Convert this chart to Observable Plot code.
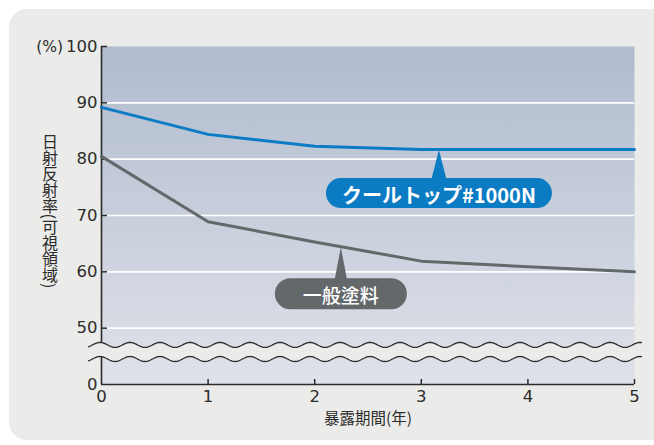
<!DOCTYPE html>
<html>
<head>
<meta charset="utf-8">
<script src="https://cdn.jsdelivr.net/npm/d3@7"></script>
<script src="https://cdn.jsdelivr.net/npm/@observablehq/plot@0.6"></script>
<style>
  html, body { margin: 0; padding: 0; background: #ffffff; }
  #wrap { position: relative; width: 654px; height: 445px; overflow: hidden; }
  #panel { position: absolute; left: 9px; top: 9px; width: 700px; height: 431px; border-radius: 18px; background: #ebebe9; }
  #chart { position: absolute; left: 0; top: 0; }
  #chart svg [aria-label="y-axis tick label"] text,
  #chart svg [aria-label="x-axis tick label"] text,
  #chart svg text.num { font-family: "DejaVu Sans", sans-serif; }
</style>
</head>
<body>
<div id="wrap"><div id="panel"></div><div id="chart"></div></div>
<script>
// Solar reflectance (visible range) over exposure time
const years = [0, 1, 2, 3, 4, 5];
const coolTop = [89.2, 84.4, 82.3, 81.7, 81.7, 81.7];
const generic = [80.5, 68.9, 65.3, 61.9, 60.9, 60.0];
const seriesNames = ["クールトップ#1000N", "一般塗料"];

// The axis origin sits just below the broken section, so 40 on the scale reads as 0
const yTicks = [40, 50, 60, 70, 80, 90, 100];
const yTickLabels = ["0", "50", "60", "70", "80", "90", "100"];
const xTicks = [0, 1, 2, 3, 4, 5];
const gridValues = [50, 60, 70, 80, 90];
const breakCenters = [46.93, 44.44];
const calloutYears = [3.17, 2.25];

const yTitle = "日射反射率(可視領域)";
const xTitle = "暴露期間(年)";
const yUnit = "(%)";

const BLUE = "#0b7bc4";
const GRAY = "#63686b";
const PANEL = "#ebebe9";
const INK = "#2b2b2b";
const FONT = "'Noto Sans CJK JP', 'Noto Sans', sans-serif";

const calloutStyle = [
  {w: 226, h: 30, drop: 44, base: 16, fill: BLUE, fontSize: 20, weight: 700},
  {w: 132, h: 31, drop: 47.5, base: 13, fill: GRAY, fontSize: 19, weight: 500}
];

const rows = years.flatMap((yr, i) => [
  {year: yr, value: coolTop[i], series: seriesNames[0]},
  {year: yr, value: generic[i], series: seriesNames[1]}
]);

function valueAt(vals, yr) {
  const i0 = Math.min(Math.floor(yr), vals.length - 2);
  return vals[i0] + (vals[i0 + 1] - vals[i0]) * (yr - i0);
}

// vertical gradient used to fill the plotting area
const gradientDefs = () => {
  const defs = d3.create("svg:defs");
  const g = defs.append("linearGradient").attr("id", "plotBg")
    .attr("x1", 0).attr("y1", 0).attr("x2", 0).attr("y2", 1);
  g.append("stop").attr("offset", "0%").attr("stop-color", "#b0bbce");
  g.append("stop").attr("offset", "100%").attr("stop-color", "#dfe2e9");
  return defs.node();
};

// wavy scale break between 0 and 50
const scaleBreak = (index, {y}, values, dims) => {
  const g = d3.create("svg:g");
  const x0 = dims.marginLeft - 13, x1 = dims.width - dims.marginRight + 8;
  const amp = 2.5, period = 30, phase = dims.marginLeft - 1;
  const wave = (cy) => d3.range(x0, x1 + 0.5, 1)
    .map(px => [px, cy - amp * Math.cos(2 * Math.PI * (px - phase) / period)]);
  const top = wave(y(breakCenters[0]));
  const bot = wave(y(breakCenters[1]));
  g.append("path").attr("d", d3.line()(top.concat(bot.slice().reverse())) + "Z")
    .attr("fill", PANEL);
  for (const w of [top, bot]) {
    g.append("path").attr("d", d3.line()(w)).attr("fill", "none")
      .attr("stroke", INK).attr("stroke-width", 1.3);
  }
  return g.node();
};

// pill-shaped labels pointing at each line
const callouts = (index, {x, y}) => {
  const g = d3.create("svg:g");
  const series = [coolTop, generic];
  calloutYears.forEach((yr, i) => {
    const st = calloutStyle[i];
    const ax = x(yr), ay = y(valueAt(series[i], yr));
    const cy = ay + st.drop, top = cy - st.h / 2;
    g.append("path")
      .attr("d", `M${ax},${ay + 1}L${ax - st.base / 2},${top + 3}L${ax + st.base / 2},${top + 3}Z`)
      .attr("fill", st.fill);
    g.append("rect").attr("x", ax - st.w / 2).attr("y", top)
      .attr("width", st.w).attr("height", st.h).attr("rx", st.h / 2).attr("fill", st.fill);
    g.append("text").attr("x", ax).attr("y", cy + 1)
      .attr("text-anchor", "middle").attr("dominant-baseline", "central")
      .attr("fill", "white").attr("font-size", st.fontSize).attr("font-weight", st.weight)
      .attr("font-family", FONT)
      .text(seriesNames[i]);
  });
  return g.node();
};

// vertical y-axis title
const yTitleMark = (index, scales, values, dims) => {
  const cy = (dims.marginTop + dims.height - dims.marginBottom) / 2 - 4;
  const t = d3.create("svg:text")
    .attr("x", dims.marginLeft - 51).attr("y", cy)
    .attr("text-anchor", "middle")
    .attr("fill", INK).attr("font-size", 16).attr("font-family", FONT)
    .style("writing-mode", "vertical-rl")
    .text(yTitle);
  return t.node();
};

// unit label above the y axis
const unitMark = (index, scales, values, dims) => {
  return d3.create("svg:text")
    .attr("class", "num")
    .attr("x", dims.marginLeft - 38).attr("y", dims.marginTop + 1)
    .attr("text-anchor", "end").attr("dominant-baseline", "central")
    .attr("fill", INK).attr("font-size", 15.5)
    .text(yUnit).node();
};

const chart = Plot.plot({
  width: 654,
  height: 445,
  marginLeft: 101,
  marginRight: 20,
  marginTop: 46,
  marginBottom: 61,
  x: {domain: [0, 5]},
  y: {domain: [40, 100]},
  color: {domain: seriesNames, range: [BLUE, GRAY]},
  style: {fontFamily: FONT, color: INK, background: "transparent", overflow: "visible"},
  marks: [
    gradientDefs,
    Plot.frame({fill: "url(#plotBg)", stroke: "none"}),
    Plot.ruleY(gridValues, {stroke: "white", strokeWidth: 1.6}),
    Plot.ruleY(yTicks.filter(d => d > 40), {x1: 0, x2: 0, insetRight: -6, stroke: INK, strokeWidth: 1.5}),
    Plot.ruleX(xTicks.filter(d => d > 0), {y1: 40, y2: 40, insetTop: -5, stroke: INK, strokeWidth: 1.5}),
    Plot.ruleX([0], {stroke: INK, strokeWidth: 1.6}),
    Plot.ruleY([40], {stroke: INK, strokeWidth: 1.6}),
    scaleBreak,
    Plot.line(rows, {x: "year", y: "value", z: "series", stroke: "series", strokeWidth: 3, strokeLinejoin: "round"}),
    callouts,
    Plot.axisY(yTicks, {tickSize: 0, tickPadding: 4, fontSize: 16.5, fill: INK, label: null,
      tickFormat: d => yTickLabels[yTicks.indexOf(d)]}),
    Plot.axisX(xTicks, {tickSize: 0, tickPadding: 6, fontSize: 16.5, fill: INK, label: null}),
    unitMark,
    Plot.text([xTitle], {text: d => d, frameAnchor: "bottom", dy: 35, lineAnchor: "middle",
      fontSize: 15.5, fill: INK}),
    yTitleMark
  ]
});

document.getElementById("chart").appendChild(chart);
</script>
</body>
</html>
